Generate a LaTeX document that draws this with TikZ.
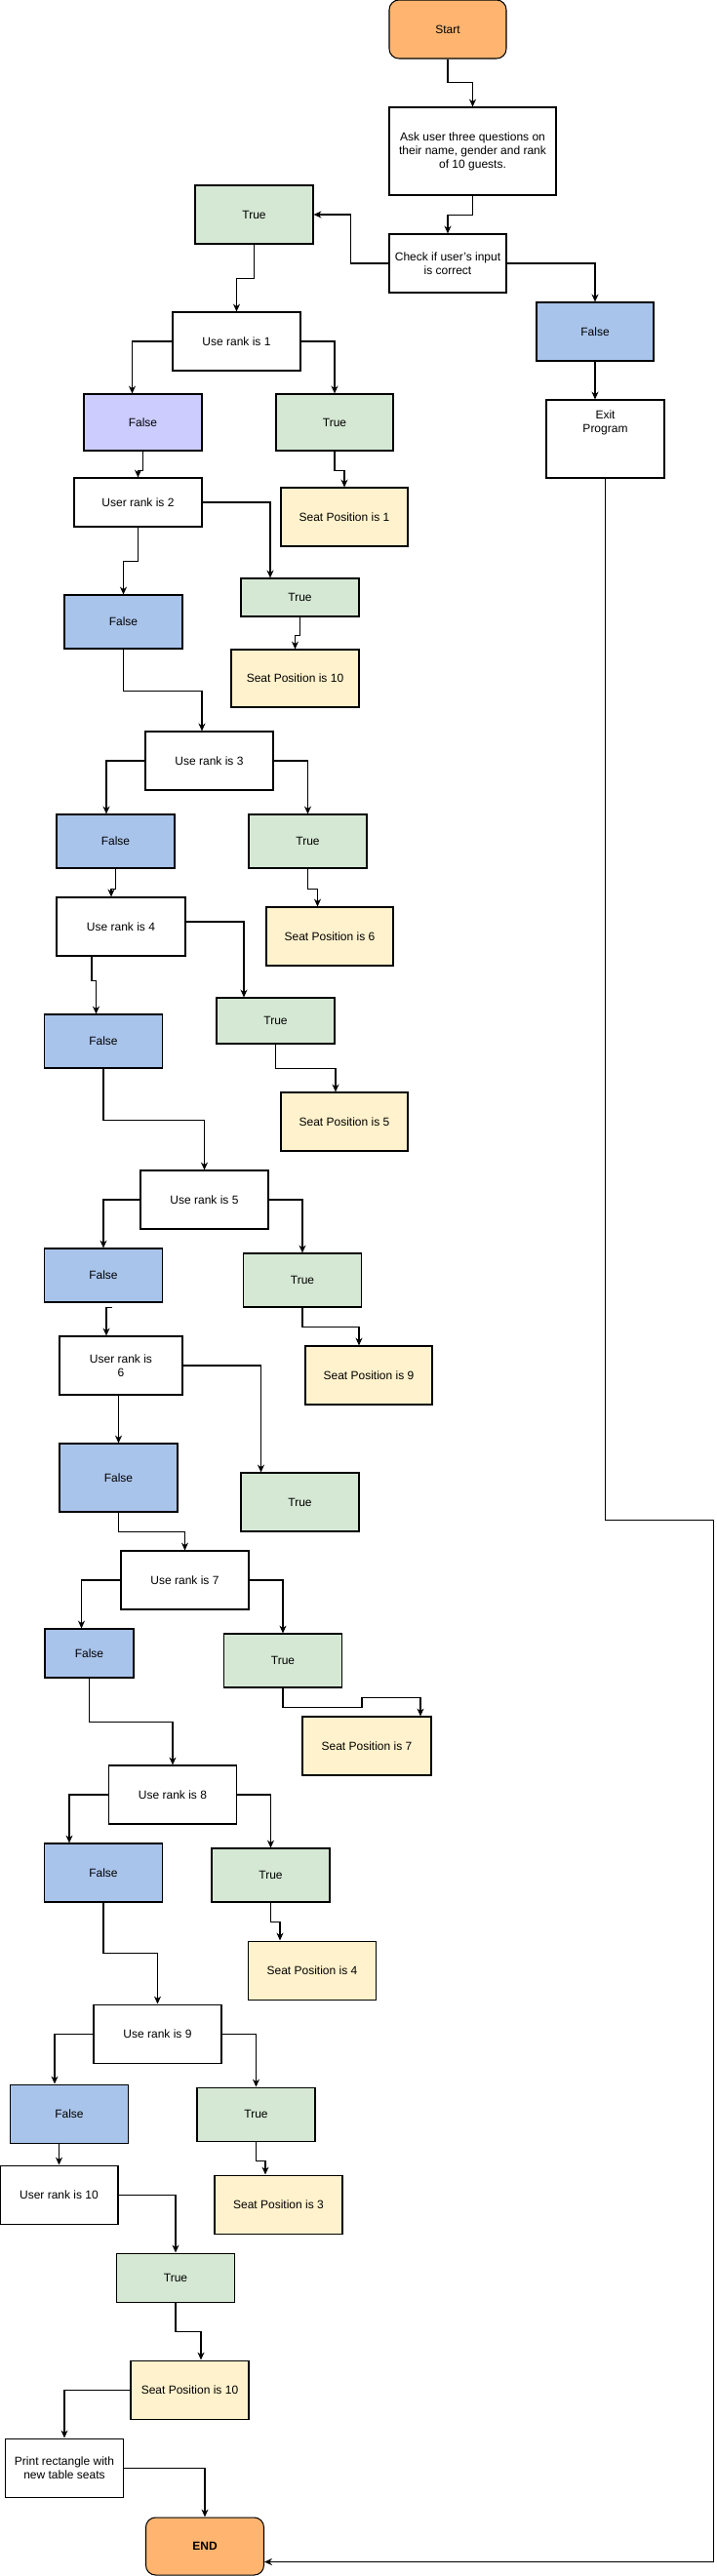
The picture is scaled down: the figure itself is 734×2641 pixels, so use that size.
\documentclass[tikz,border=0pt]{standalone}
\usepackage{fontspec}
\setmainfont{Liberation Sans}
\usetikzlibrary{arrows.meta,calc}
\definecolor{termorange}{HTML}{FFB570}
\definecolor{truegreen}{HTML}{D5E8D4}
\definecolor{falseblue}{HTML}{A9C4EB}
\definecolor{falsepurple}{HTML}{CCCCFF}
\definecolor{seatyellow}{HTML}{FFF2CC}

\begin{document}
\begin{tikzpicture}[
            x=0.02cm, y=-0.02cm,
            every node/.style={draw, rectangle, inner sep=0pt, align=center, line width=0.6pt,
              font=\fontsize{6.83pt}{7.97pt}\selectfont},
            every label/.style={draw=none, fill=none},
            sz/.style 2 args={minimum width=#1*0.02cm, minimum height=#2*0.02cm},
            termbox/.style={fill=termorange, rounded corners=0.2cm},
            truebox/.style={fill=truegreen},
            falsebox/.style={fill=falseblue},
            seatbox/.style={fill=seatyellow},
            flow/.style={draw, line width=0.6pt, -{Stealth[length=4.5pt,width=4pt]}}
            ]
            \useasboundingbox (0,0) rectangle (734,2641);

            % start and input check
            \node[termbox, sz={120}{60}] (start) at (459,30) {Start};
            \node[sz={171}{90}] (ask) at (484.5,155) {Ask user three questions on\\their name, gender and rank\\of 10 guests.};
            \node[sz={120}{60}] (check) at (459,270) {Check if user's input\\is correct};
            \node[truebox, sz={121}{60}] (trueA) at (260.5,220) {True};
            \node[falsebox, sz={120}{60}] (falseA) at (610,340) {False};
            \node[sz={121}{80}, label={[anchor=north, yshift=-0.22cm, align=center]north:Exit\\Program}] (exitp) at (620.5,450) {};

            % rank 1 and 2
            \node[sz={131}{60}] (rank1) at (242.5,350) {Use rank is 1};
            \node[fill=falsepurple, sz={121}{58}] (f1) at (146.5,433) {False};
            \node[truebox, sz={120}{58}] (t1) at (343,433) {True};
            \node[seatbox, sz={130}{60}] (seat1) at (353,530) {Seat Position is 1};
            \node[sz={131}{50}] (rank2) at (141.5,515) {User rank is 2};
            \node[falsebox, sz={121}{55}] (f2) at (126.5,637.5) {False};
            \node[truebox, sz={121}{39}] (t2) at (307.5,612.5) {True};
            \node[seatbox, sz={131}{59}] (seat10a) at (302.5,695.5) {Seat Position is 10};

            % rank 3 and 4
            \node[sz={131}{60}] (rank3) at (214.5,780) {Use rank is 3};
            \node[falsebox, sz={121}{55}] (f3) at (118.5,862.5) {False};
            \node[truebox, sz={121}{55}] (t3) at (315.5,862.5) {True};
            \node[seatbox, sz={130}{60}] (seat6) at (338,960) {Seat Position is 6};
            \node[sz={132}{60}] (rank4) at (124,950) {Use rank is 4};
            \node[falsebox, sz={121}{55}] (f4) at (106,1067.5) {False};
            \node[truebox, sz={121}{47}] (t4) at (282.5,1046.5) {True};
            \node[seatbox, sz={130}{60}] (seat5) at (353,1150) {Seat Position is 5};

            % rank 5 and 6
            \node[sz={131}{60}] (rank5) at (209.5,1230) {Use rank is 5};
            \node[falsebox, sz={121}{55}] (f5) at (106,1307.5) {False};
            \node[truebox, sz={121}{55}] (t5) at (310,1312.5) {True};
            \node[seatbox, sz={130}{60}] (seat9) at (378,1410) {Seat Position is 9};
            \node[sz={126}{60}] (rank6) at (124,1400) {User rank is\\6};
            \node[falsebox, sz={121}{70}] (f6) at (121.5,1515) {False};
            \node[truebox, sz={121}{60}] (t6) at (307.5,1540) {True};

            % rank 7 and 8
            \node[sz={131}{60}] (rank7) at (189.5,1620) {Use rank is 7};
            \node[falsebox, sz={91}{50}] (f7) at (91.5,1695) {False};
            \node[truebox, sz={121}{55}] (t7) at (290,1702.5) {True};
            \node[seatbox, sz={132}{60}] (seat7) at (376,1790) {Seat Position is 7};
            \node[sz={131}{60}] (rank8) at (177,1840) {Use rank is 8};
            \node[falsebox, sz={121}{60}] (f8) at (106,1920) {False};
            \node[truebox, sz={121}{55}] (t8) at (277.5,1922.5) {True};
            \node[seatbox, sz={131}{60}] (seat4) at (320,2020) {Seat Position is 4};

            % rank 9 and 10
            \node[sz={131}{60}] (rank9) at (161.5,2085) {Use rank is 9};
            \node[falsebox, sz={121}{60}] (f9) at (71,2167) {False};
            \node[truebox, sz={121}{55}] (t9) at (262.5,2167.5) {True};
            \node[seatbox, sz={131}{60}] (seat3) at (285.5,2260) {Seat Position is 3};
            \node[sz={121}{60}] (rank10) at (60.5,2250) {User rank is 10};
            \node[truebox, sz={121}{50}] (t10) at (180,2335) {True};
            \node[seatbox, sz={121}{60}] (seat10b) at (194.5,2450) {Seat Position is 10};

            % output and end
            \node[sz={121}{60}] (print) at (66,2530) {Print rectangle with\\new table seats};
            \node[termbox, sz={121}{59}] (finish) at (210,2610.5) {\bfseries END};

            % connectors
            \path[flow] (start.south) -- ++(0,24) -| (ask.north);
            \path[flow] (ask.south) -- ++(0,20) -| (check.north);
            \path[flow] (check.west) -- ++(-39,0) |- (trueA.east);
            \path[flow] (check.east) -| (falseA.north);
            \path[flow] (falseA.south) -- (falseA.south |- exitp.north);
            \path[flow] (exitp.south) -- ++(0,1068) -- ++(111,0) |- ([yshift=-0.32cm]finish.east);

            \path[flow] (trueA.south) -- ++(0,35) -| (rank1.north);
            \path[flow] (rank1.west) -| ($(f1.north)+(-11,0)$);
            \path[flow] (rank1.east) -| (t1.north);
            \path[flow] (f1.south) -- ++(0,20) -| (rank2.north);
            \path[flow] (t1.south) -- ++(0,20) -| (seat1.north);
            \path[flow] (rank2.south) -- ++(0,35) -| (f2.north);
            \path[flow] (rank2.east) -| ($(t2.north)+(-30.5,0)$);
            \path[flow] (t2.south) -- ++(0,19) -| (seat10a.north);

            \path[flow] (f2.south) -- ++(0,43) -| ($(rank3.north)+(-7.5,0)$);
            \path[flow] (rank3.west) -| ($(f3.north)+(-9.5,0)$);
            \path[flow] (rank3.east) -| (t3.north);
            \path[flow] (f3.south) -- ++(0,21) -| ($(rank4.north)+(-10,0)$);
            \path[flow] (t3.south) -- ++(0,21) -| ($(seat6.north)+(-12.5,0)$);
            \path[flow] ($(rank4.south)+(-30,0)$) -- ++(0,25) -| ($(f4.north)+(-7.5,0)$);
            \path[flow] ($(rank4.east)+(0,-5)$) -| ($(t4.north)+(-32.5,0)$);
            \path[flow] (t4.south) -- ++(0,25) -| ($(seat5.north)+(-9,0)$);

            \path[flow] (f4.south) -- ++(0,53) -| (rank5.north);
            \path[flow] (rank5.west) -| (f5.north);
            \path[flow] (rank5.east) -| (t5.north);
            \path[flow] ($(f5.south)+(8.5,5)$) -| ($(rank6.north)+(-15,0)$);
            \path[flow] (t5.south) -- ++(0,20) -| ($(seat9.north)+(-10,0)$);
            \path[flow] (f6.north |- rank6.south) -- (f6.north);
            \path[flow] (rank6.east) -| ($(t6.north)+(-40,0)$);

            \path[flow] (f6.south) -- ++(0,20) -| (rank7.north);
            \path[flow] (rank7.west) -| ($(f7.north)+(-8,0)$);
            \path[flow] (rank7.east) -| (t7.north);
            \path[flow] (t7.south) -- ++(0,20) -- ++(81,0) -- ++(0,-10) -| ($(seat7.north)+(55,0)$);
            \path[flow] (f7.south) -- ++(0,45) -| (rank8.north);
            \path[flow] (rank8.west) -| ($(f8.north)+(-35,0)$);
            \path[flow] (rank8.east) -| (t8.north);
            \path[flow] (t8.south) -- ++(0,20) -| ($(seat4.north)+(-33,0)$);

            \path[flow] (f8.south) -- ++(0,52) -| (rank9.north);
            \path[flow] (rank9.west) -| ($(f9.north)+(-15,0)$);
            \path[flow] (rank9.east) -| (t9.north);
            \path[flow] (rank10.north |- f9.south) -- (rank10.north);
            \path[flow] (t9.south) -- ++(0,20) -| ($(seat3.north)+(-13.5,0)$);
            \path[flow] (rank10.east) -| (t10.north);
            \path[flow] (t10.south) -- ++(0,30) -| ($(seat10b.north)+(11.5,0)$);
            \path[flow] (seat10b.west) -| (print.north);
            \path[flow] (print.east) -| (finish.north);
        \end{tikzpicture}
\end{document}
